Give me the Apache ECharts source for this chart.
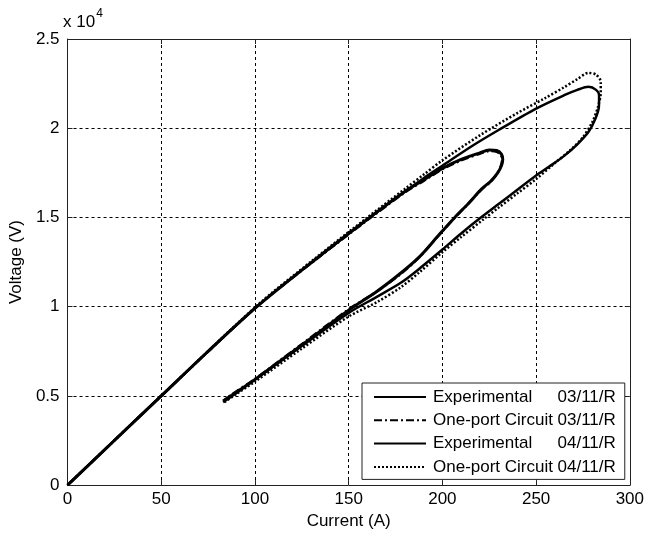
<!DOCTYPE html>
<html>
<head>
<meta charset="utf-8">
<script src="https://cdn.jsdelivr.net/npm/echarts@6/dist/echarts.min.js"></script>
<style>
html,body{margin:0;padding:0;background:#fff;}
#c{width:647px;height:535px;}
</style>
</head>
<body>
<div id="c"></div>
<script>
// ---- data (Current A, Voltage V) ----
var seriesNames = ['Experimental 03/11/R', 'One-port Circuit 03/11/R', 'Experimental 04/11/R', 'One-port Circuit 04/11/R'];
var xTicks = [0, 50, 100, 150, 200, 250, 300];
var yTicks = [0, 0.5, 1, 1.5, 2, 2.5];

var exp03 = [[0,0],[25,2500],[50,5000],[75,7500],[101,10000],[132,12630],[160,14900],[180,16450],[190,17100],[200,17750],[210,18250],[220,18620],[225,18780],[229,18750],[231.5,18550],[232.2,18250],[231.5,17900],[229.5,17500],[226,17050],[221,16600],[214,15800],[206.6,15000],[198,14000],[188,12820],[178,11900],[165,10850],[150,9800],[125,7850],[100,5925],[90,5200],[83,4710]];
var port03 = [[0,0],[50,5000],[101,10000],[132,12600],[160,14850],[180,16400],[190,17050],[200,17700],[210,18200],[220,18570],[225,18720],[229,18680],[231.3,18480],[231.8,18180],[231,17830],[229,17430],[225.5,16980],[220.5,16530],[213.5,15730],[206,14920],[197.5,13930],[187.5,12760],[178,11850],[165,10850],[150,9850],[125,7900],[100,5950],[90,5250],[84,4800]];
var exp04 = [[0,0],[50,5000],[101,10000],[132,12630],[160,14900],[180,16450],[190,17200],[200,17900],[215,18950],[230,19900],[250,21100],[265,21850],[272,22150],[278,22320],[282,22150],[283.6,21850],[283.5,21200],[281.5,20500],[278,19800],[272,19100],[265,18450],[257,17850],[250,17350],[240,16550],[230,15750],[220,14950],[210,14100],[200,13200],[188,12150],[178,11350],[165,10550],[150,9650],[125,7800],[100,5900],[90,5150],[83,4650]];
var port04 = [[0,0],[50,5000],[101,10050],[132,12700],[160,15000],[180,16600],[190,17400],[200,18200],[220,19600],[240,20850],[255,21700],[265,22300],[272,22750],[278,23100],[282,23000],[284.5,22600],[284.5,22000],[283,21200],[280,20350],[275,19500],[268,18750],[260,18050],[250,17150],[240,16350],[230,15550],[222,14900],[210,13900],[200,13050],[188,11950],[178,11100],[165,10250],[150,9450],[125,7650],[100,5800],[90,5100],[83,4600]];

var FONT = 'Liberation Sans, Arial, sans-serif';
var FS = 17;
var chart = echarts.init(document.getElementById('c'), null, {renderer: 'canvas'});

function legendFmt(name) {
  var i = name.lastIndexOf(' ');
  return '{n|' + name.substring(0, i) + '}{d|' + name.substring(i + 1) + '}';
}

var frameColor = '#222';
var gridLine = {show: true, lineStyle: {color: '#000', width: 1, type: [3, 3]}};

var option = {
  backgroundColor: '#fff',
  animation: false,
  grid: {left: 63.5, right: 14, top: 39, bottom: 49, containLabel: false},
  xAxis: [{
    type: 'value', min: 0, max: 300, interval: 50, position: 'bottom',
    name: 'Current (A)', nameLocation: 'middle', nameGap: 27,
    nameTextStyle: {fontFamily: FONT, fontSize: FS, color: '#000'},
    axisLine: {show: true, onZero: false, lineStyle: {color: frameColor, width: 1}},
    axisTick: {show: true, inside: true, length: 5, lineStyle: {color: frameColor}},
    axisLabel: {fontFamily: FONT, fontSize: FS, color: '#000', margin: 6,
      formatter: function (v) { return xTicks.indexOf(v) >= 0 ? String(v) : ''; }},
    splitLine: gridLine
  }, {
    type: 'value', min: 0, max: 300, interval: 50, position: 'top',
    axisLine: {show: true, onZero: false, lineStyle: {color: frameColor, width: 1}},
    axisTick: {show: true, inside: true, length: 5, lineStyle: {color: frameColor}},
    axisLabel: {show: false}, splitLine: {show: false}
  }],
  yAxis: [{
    type: 'value', min: 0, max: 25000, interval: 5000, position: 'left',
    name: 'Voltage (V)', nameLocation: 'middle', nameGap: 40,
    nameTextStyle: {fontFamily: FONT, fontSize: FS, color: '#000'},
    axisLine: {show: true, onZero: false, lineStyle: {color: frameColor, width: 1}},
    axisTick: {show: true, inside: true, length: 5, lineStyle: {color: frameColor}},
    axisLabel: {fontFamily: FONT, fontSize: FS, color: '#000', margin: 8,
      formatter: function (v) { var t = v / 10000; return yTicks.indexOf(t) >= 0 ? String(t) : ''; }},
    splitLine: gridLine
  }, {
    type: 'value', min: 0, max: 25000, interval: 5000, position: 'right',
    axisLine: {show: true, onZero: false, lineStyle: {color: frameColor, width: 1}},
    axisTick: {show: true, inside: true, length: 5, lineStyle: {color: frameColor}},
    axisLabel: {show: false}, splitLine: {show: false}
  }],
  legend: {
    show: true, orient: 'vertical', left: 362, top: 383,
    data: seriesNames,
    backgroundColor: '#fff', borderColor: '#222', borderWidth: 1,
    padding: [4.5, 9, 3, 11], itemGap: 4.3, itemWidth: 52, itemHeight: 19,
    selectedMode: false,
    itemStyle: {opacity: 0},
    formatter: legendFmt,
    textStyle: {
      fontFamily: FONT, fontSize: FS, color: '#000', lineHeight: 19, padding: [0, 0, 0, 2],
      rich: {
        n: {fontFamily: FONT, fontSize: FS, color: '#000', width: 124.5, lineHeight: 19},
        d: {fontFamily: FONT, fontSize: FS, color: '#000', lineHeight: 19}
      }
    }
  },
  graphic: [{
    type: 'text', left: 63, top: 8,
    style: {
      text: '{a|x 10}{b|4}',
      rich: {
        a: {fontFamily: FONT, fontSize: FS, fill: '#000', padding: [8, 0, 0, 0]},
        b: {fontFamily: FONT, fontSize: 12, fill: '#000', padding: [0, 0, 8, 1]}
      }
    }
  }],
  series: [{
    name: seriesNames[0], type: 'line', data: exp03, symbol: 'none', smooth: 0.3,
    lineStyle: {color: '#000', width: 3, type: 'solid'}, itemStyle: {color: '#000'}
  }, {
    name: seriesNames[1], type: 'line', data: port03, symbol: 'none', smooth: 0.3,
    lineStyle: {color: '#000', width: 2.5, type: [8, 3, 2, 3]}, itemStyle: {color: '#000'}
  }, {
    name: seriesNames[2], type: 'line', data: exp04, symbol: 'none', smooth: 0.3,
    lineStyle: {color: '#000', width: 2.5, type: 'solid'}, itemStyle: {color: '#000'}
  }, {
    name: seriesNames[3], type: 'line', data: port04, symbol: 'none', smooth: 0.3,
    lineStyle: {color: '#000', width: 2.5, type: [2, 2]}, itemStyle: {color: '#000'}
  }]
};
chart.setOption(option);
</script>
</body>
</html>
